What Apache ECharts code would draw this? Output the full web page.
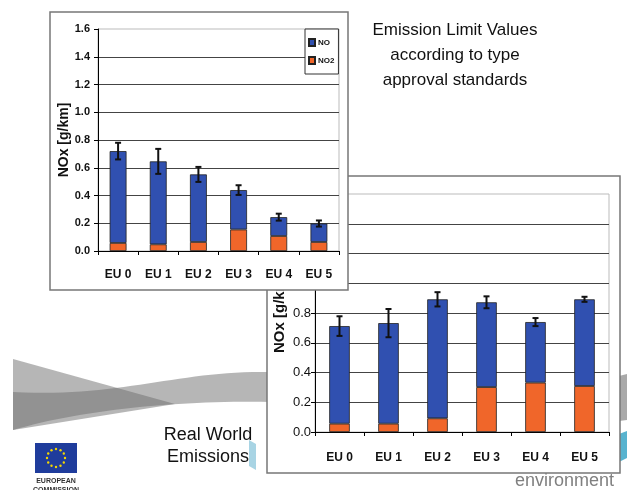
<!DOCTYPE html>
<html>
<head>
<meta charset="UTF-8">
<title>NOx emissions: limit values vs real world</title>
<script src="https://cdn.jsdelivr.net/npm/echarts@6/dist/echarts.min.js"></script>
<style>
  html, body { margin: 0; padding: 0; background: #fff; }
  #chart { width: 627px; height: 490px; }
</style>
</head>
<body>
<div id="chart"></div>
<script>
const categories = ['EU 0', 'EU 1', 'EU 2', 'EU 3', 'EU 4', 'EU 5'];
const yMin = 0, yMax = 1.6, yStep = 0.2;

// type approval limit values (top-left chart)
const limitNO2 = [0.058, 0.048, 0.065, 0.155, 0.108, 0.065];
const limitNO = [0.662, 0.598, 0.487, 0.284, 0.136, 0.133];
const limitErr = [0.060, 0.090, 0.054, 0.035, 0.025, 0.022];

// real world emissions (bottom-right chart)
const realNO2 = [0.056, 0.056, 0.092, 0.302, 0.332, 0.309];
const realNO = [0.656, 0.676, 0.800, 0.570, 0.407, 0.583];
const realErr = [0.066, 0.095, 0.048, 0.040, 0.027, 0.017];

const BLUE = '#3050b0';
const ORANGE = '#f0662a';
const SANS = "'Liberation Sans', Arial, sans-serif";

const chart = echarts.init(document.getElementById('chart'));

function errorBar(cap) {
    return function (params, api) {
        const i = api.value(0);
        const mid = api.value(1);
        const e = api.value(2);
        const hi = api.coord([i, mid + e]);
        const lo = api.coord([i, mid - e]);
        const st = { stroke: '#111', lineWidth: 2 };
        return {
            type: 'group',
            children: [
                { type: 'line', shape: { x1: hi[0], y1: hi[1], x2: lo[0], y2: lo[1] }, style: st },
                { type: 'line', shape: { x1: hi[0] - cap, y1: hi[1], x2: hi[0] + cap, y2: hi[1] }, style: st },
                { type: 'line', shape: { x1: lo[0] - cap, y1: lo[1], x2: lo[0] + cap, y2: lo[1] }, style: st }
            ]
        };
    };
}

function errData(no, no2, err) {
    return categories.map((c, i) => [i, no[i] + no2[i], err[i]]);
}

// bezier helper for the slide decoration
function bez(p0, p1, p2, p3, n) {
    const pts = [];
    for (let k = 0; k <= n; k++) {
        const t = k / n, u = 1 - t;
        pts.push([
            u * u * u * p0[0] + 3 * u * u * t * p1[0] + 3 * u * t * t * p2[0] + t * t * t * p3[0],
            u * u * u * p0[1] + 3 * u * u * t * p1[1] + 3 * u * t * t * p2[1] + t * t * t * p3[1]
        ]);
    }
    return pts;
}
const bandPts = bez([13, 392], [120, 398], [180, 370], [270, 372], 30)
    .concat(bez([270, 402], [180, 400], [80, 410], [13, 430], 30));

const stars = [];
for (let k = 0; k < 12; k++) {
    const a = k * Math.PI / 6;
    stars.push({
        type: 'circle', z: 1,
        shape: { cx: 56 + 9 * Math.cos(a), cy: 458 + 9 * Math.sin(a), r: 1.2 },
        style: { fill: '#f5d800' }
    });
}

function yAxisCfg(grid, z, label, nameGap, nameSize) {
    return {
        type: 'value', gridIndex: grid, z: z,
        min: yMin, max: yMax, interval: yStep,
        name: 'NOx [g/km]', nameLocation: 'middle', nameGap: nameGap,
        nameTextStyle: { fontFamily: SANS, fontWeight: 'bold', fontSize: nameSize, color: '#111' },
        axisLine: { show: true, lineStyle: { color: '#000', width: 1 } },
        axisTick: { show: true, length: 4, lineStyle: { color: '#000' } },
        axisLabel: Object.assign({ formatter: v => v.toFixed(1), fontFamily: SANS, color: '#111' }, label),
        splitLine: { show: true, showMaxLine: false, lineStyle: { color: '#444', width: 1 } }
    };
}

function xAxisCfg(grid, z, label) {
    return {
        type: 'category', gridIndex: grid, z: z, data: categories,
        axisLine: { show: true, lineStyle: { color: '#000', width: 1 } },
        axisTick: { show: true, alignWithLabel: false, length: 4, lineStyle: { color: '#000' } },
        axisLabel: Object.assign({ interval: 0, fontFamily: SANS, fontWeight: 'bold', color: '#111' }, label),
        splitLine: { show: false }
    };
}

const barStyle = c => ({ color: c, borderColor: '#222', borderWidth: 0.8 });

const option = {
    animation: false,
    backgroundColor: '#fff',
    grid: [
        { left: 98, top: 29, width: 241, height: 222, show: true, z: 11,
          backgroundColor: 'transparent', borderColor: '#bbb', borderWidth: 1 },
        { left: 315, top: 194, width: 294, height: 238, show: true, z: 3,
          backgroundColor: 'transparent', borderColor: '#bbb', borderWidth: 1 }
    ],
    xAxis: [
        xAxisCfg(0, 12, { fontSize: 12, margin: 18 }),
        xAxisCfg(1, 4, { fontSize: 12, margin: 20 })
    ],
    yAxis: [
        yAxisCfg(0, 12, { fontSize: 11, fontWeight: 'bold', margin: 8 }, 25, 14),
        yAxisCfg(1, 4, { fontSize: 13, margin: 4 }, 28, 15)
    ],
    legend: {
        data: ['NO', 'NO2'],
        orient: 'vertical',
        left: 305, top: 29, z: 15,
        icon: 'rect', itemWidth: 6, itemHeight: 7, itemGap: 9,
        padding: [9, 4, 9, 3],
        backgroundColor: '#fff', borderColor: '#333', borderWidth: 1,
        textStyle: { fontFamily: SANS, fontSize: 8, fontWeight: 'bold', color: '#111', padding: [0, 0, 0, -2] }
    },
    graphic: { elements: [
        // slide decoration
        { type: 'polygon', z: 1, shape: { points: [[13, 359], [175, 404], [13, 430]] },
          style: { fill: 'rgba(110,110,110,0.5)' } },
        { type: 'polygon', z: 1, shape: { points: bandPts },
          style: { fill: 'rgba(110,110,110,0.5)' } },
        { type: 'polygon', z: 1, shape: { points: [[619, 376], [627, 374], [627, 420], [619, 421]] },
          style: { fill: '#a9a9a9' } },
        { type: 'polygon', z: 1, shape: { points: [[619, 434], [627, 431], [627, 458], [619, 462]] },
          style: { fill: '#58b3cf' } },
        { type: 'polygon', z: 1, shape: { points: [[249, 440], [256, 444], [256, 470], [249, 466]] },
          style: { fill: '#a8d4e4' } },
        { type: 'rect', z: 1, shape: { x: 35, y: 443, width: 42, height: 30 }, style: { fill: '#1f3c9c' } },
        ...stars,
        { type: 'text', z: 1, x: 56, y: 481,
          style: { text: 'EUROPEAN', fill: '#333', font: 'bold 7px ' + SANS, textAlign: 'center', textVerticalAlign: 'middle' } },
        { type: 'text', z: 1, x: 56, y: 490,
          style: { text: 'COMMISSION', fill: '#333', font: 'bold 7px ' + SANS, textAlign: 'center', textVerticalAlign: 'middle' } },
        { type: 'text', z: 1, x: 208, y: 424,
          style: { text: 'Real World\nEmissions', fill: '#111', font: '18px ' + SANS, lineHeight: 22,
                   textAlign: 'center', textVerticalAlign: 'top' } },
        { type: 'text', z: 1, x: 455, y: 18,
          style: { text: 'Emission Limit Values\naccording to type\napproval standards', fill: '#111',
                   font: '17px ' + SANS, lineHeight: 25, textAlign: 'center', textVerticalAlign: 'top' } },
        { type: 'text', z: 3, x: 515, y: 490,
          style: { text: 'environment', fill: '#808080', font: '18px ' + SANS, textAlign: 'left',
                   textVerticalAlign: 'bottom' } },
        // chart frames
        { type: 'rect', z: 2, shape: { x: 267, y: 176, width: 353, height: 297 },
          style: { fill: '#fff', stroke: '#777', lineWidth: 1.5 } },
        { type: 'rect', z: 10, shape: { x: 50, y: 12, width: 298, height: 278 },
          style: { fill: '#fff', stroke: '#777', lineWidth: 1.5 } }
    ] },
    series: [
        { name: 'NO2', type: 'bar', xAxisIndex: 0, yAxisIndex: 0, stack: 'limit', z: 13,
          barWidth: '42%', data: limitNO2, itemStyle: barStyle(ORANGE) },
        { name: 'NO', type: 'bar', xAxisIndex: 0, yAxisIndex: 0, stack: 'limit', z: 13,
          barWidth: '42%', data: limitNO, itemStyle: barStyle(BLUE) },
        { name: 'limitErr', type: 'custom', xAxisIndex: 0, yAxisIndex: 0, z: 14,
          renderItem: errorBar(3), encode: { x: 0, y: 1 }, data: errData(limitNO, limitNO2, limitErr) },
        { name: 'NO2', type: 'bar', xAxisIndex: 1, yAxisIndex: 1, stack: 'real', z: 5,
          barWidth: '42%', data: realNO2, itemStyle: barStyle(ORANGE) },
        { name: 'NO', type: 'bar', xAxisIndex: 1, yAxisIndex: 1, stack: 'real', z: 5,
          barWidth: '42%', data: realNO, itemStyle: barStyle(BLUE) },
        { name: 'realErr', type: 'custom', xAxisIndex: 1, yAxisIndex: 1, z: 6,
          renderItem: errorBar(3), encode: { x: 0, y: 1 }, data: errData(realNO, realNO2, realErr) }
    ]
};

chart.setOption(option);
</script>
</body>
</html>
